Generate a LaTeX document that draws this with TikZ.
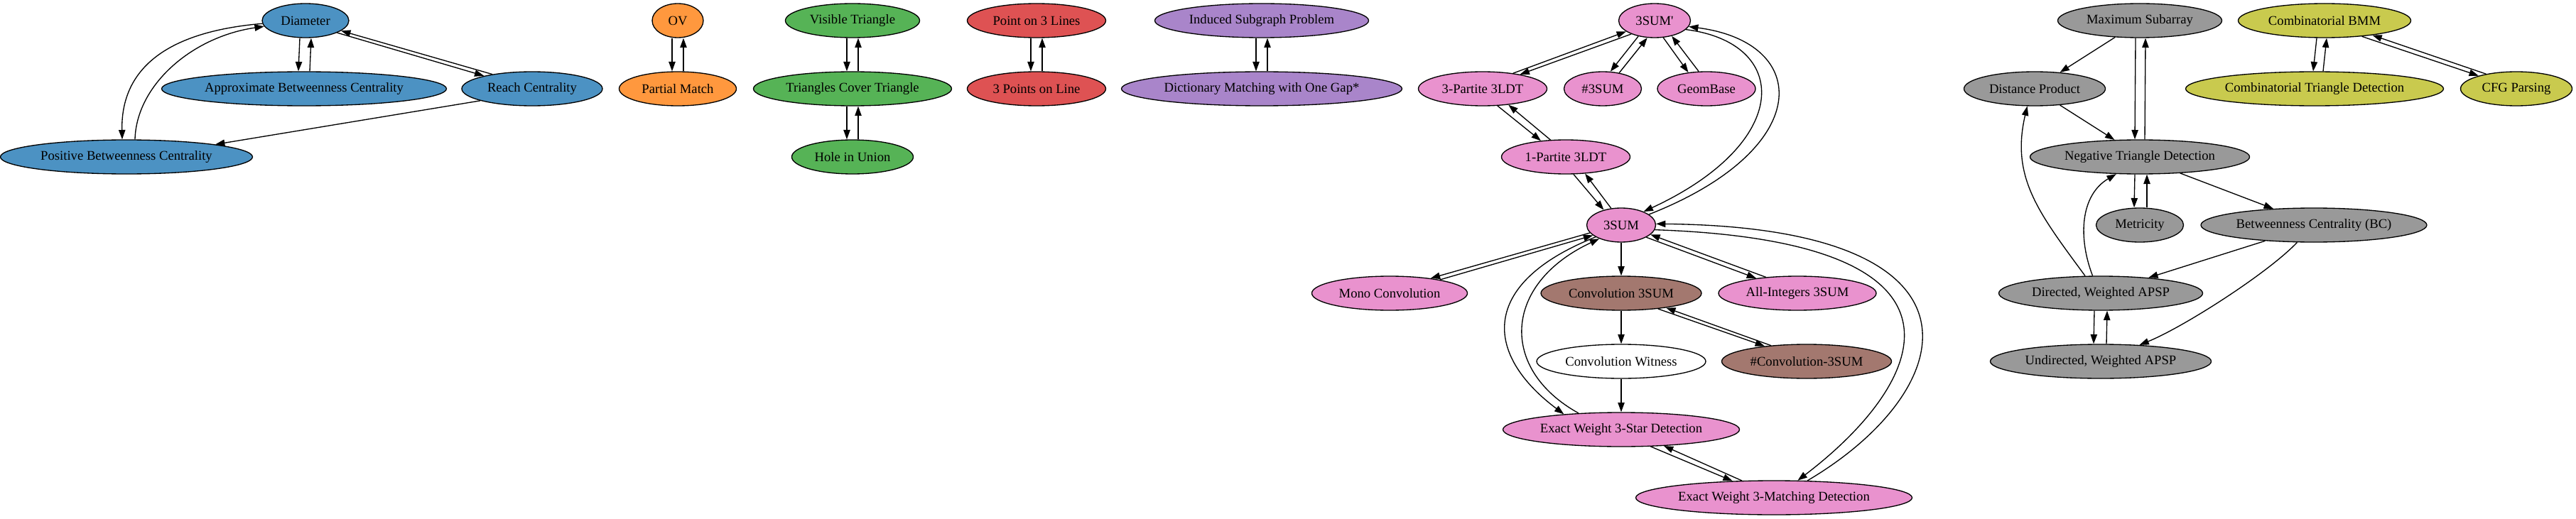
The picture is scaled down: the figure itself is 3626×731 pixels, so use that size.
\documentclass[tikz,border=0pt]{standalone}
\usepackage{fontspec}
\setmainfont{Liberation Serif}
\usepackage{xcolor}
\usetikzlibrary{shapes.geometric,arrows.meta}

\definecolor{cBlue}{RGB}{76,146,195}
\definecolor{cOrange}{RGB}{255,152,62}
\definecolor{cGreen}{RGB}{86,179,86}
\definecolor{cRed}{RGB}{222,82,83}
\definecolor{cPurple}{RGB}{169,133,202}
\definecolor{cBrown}{RGB}{163,120,111}
\definecolor{cPink}{RGB}{233,146,206}
\definecolor{cGray}{RGB}{153,153,153}
\definecolor{cOlive}{RGB}{201,202,78}

\tikzset{
  prob/.style={ellipse, draw=black, line width=1pt, minimum height=36pt, inner sep=0pt, font=\fontsize{14}{16}\selectfont},
  link/.style={line width=1pt, -{Triangle[length=10pt,width=7pt]}},
}

\begin{document}
\begin{tikzpicture}[x=0.75pt,y=0.75pt,yscale=-1,xscale=1]
\useasboundingbox (0,0) rectangle (3626,731);

%Ellipses: centrality group
\node[prob, fill=cBlue, minimum width=91.5pt] (diam) at (430,29) {Diameter};
\node[prob, fill=cBlue, minimum width=300.75pt] (abc) at (428,125) {Approximate Betweenness Centrality};
\node[prob, fill=cBlue, minimum width=148.5pt] (reach) at (749,125) {Reach Centrality};
\node[prob, fill=cBlue, minimum width=266.25pt] (pbc) at (178,221) {Positive Betweenness Centrality};
%Ellipses: OV group
\node[prob, fill=cOrange, minimum width=54pt] (ov) at (954,29) {OV};
\node[prob, fill=cOrange, minimum width=123.75pt] (pm) at (954,125) {Partial Match};
%Ellipses: triangle group
\node[prob, fill=cGreen, minimum width=141.75pt] (vt) at (1200,29) {Visible Triangle};
\node[prob, fill=cGreen, minimum width=209.25pt] (tct) at (1200,125) {Triangles Cover Triangle};
\node[prob, fill=cGreen, minimum width=128.25pt] (hiu) at (1200,221) {Hole in Union};
%Ellipses: lines group
\node[prob, fill=cRed, minimum width=146.25pt] (ponl) at (1459,29) {Point on 3 Lines};
\node[prob, fill=cRed, minimum width=146.25pt] (tpol) at (1459,125) {3 Points on Line};
%Ellipses: subgraph group
\node[prob, fill=cPurple, minimum width=225.75pt] (isp) at (1776,29) {Induced Subgraph Problem};
\node[prob, fill=cPurple, minimum width=296.25pt] (dmg) at (1776,125) {Dictionary Matching with One Gap*};
%Ellipses: 3SUM group
\node[prob, fill=cPink, minimum width=75.75pt] (sumq) at (2329,29) {3SUM\textquotesingle};
\node[prob, fill=cPink, minimum width=135.75pt] (tp) at (2087,125) {3-Partite 3LDT};
\node[prob, fill=cPink, minimum width=81.75pt] (nsum) at (2256,125) {\#3SUM};
\node[prob, fill=cPink, minimum width=103.5pt] (geom) at (2402,125) {GeomBase};
\node[prob, fill=cPink, minimum width=135.75pt] (op) at (2204,221) {1-Partite 3LDT};
\node[prob, fill=cPink, minimum width=72.75pt] (sum) at (2282,317) {3SUM};
\node[prob, fill=cPink, minimum width=164.25pt] (mono) at (1956,413) {Mono Convolution};
\node[prob, fill=cBrown, minimum width=169.5pt] (conv) at (2282,413) {Convolution 3SUM};
\node[prob, fill=cPink, minimum width=166.5pt] (allint) at (2530,413) {All-Integers 3SUM};
\node[prob, fill=white, minimum width=178.5pt] (wit) at (2282,509) {Convolution Witness};
\node[prob, fill=cBrown, minimum width=179.25pt] (nconv) at (2543,509) {\#Convolution-3SUM};
\node[prob, fill=cPink, minimum width=249.75pt] (star) at (2282,605) {Exact Weight 3-Star Detection};
\node[prob, fill=cPink, minimum width=291.75pt] (match) at (2497,701) {Exact Weight 3-Matching Detection};
%Ellipses: APSP group
\node[prob, fill=cGray, minimum width=173.25pt] (maxs) at (3012,29) {Maximum Subarray};
\node[prob, fill=cGray, minimum width=149.25pt] (dprod) at (2864,125) {Distance Product};
\node[prob, fill=cGray, minimum width=231.75pt] (ntd) at (3012,221) {Negative Triangle Detection};
\node[prob, fill=cGray, minimum width=92.25pt] (metr) at (3012,317) {Metricity};
\node[prob, fill=cGray, minimum width=238.5pt] (bc) at (3257,317) {Betweenness Centrality (BC)};
\node[prob, fill=cGray, minimum width=215.25pt] (dir) at (2957,413) {Directed, Weighted APSP};
\node[prob, fill=cGray, minimum width=233.25pt] (undir) at (2957,509) {Undirected, Weighted APSP};
%Ellipses: BMM group
\node[prob, fill=cOlive, minimum width=182.25pt] (bmm) at (3272,29) {Combinatorial BMM};
\node[prob, fill=cOlive, minimum width=272.25pt] (ctd) at (3258,125) {Combinatorial Triangle Detection};
\node[prob, fill=cOlive, minimum width=117.75pt] (cfg) at (3542,125) {CFG Parsing};

%Straight Lines
\draw[link] ([xshift=-6pt]diam.south) -- ([xshift=-6pt]abc.north);
\draw[link] ([xshift=6pt]abc.north) -- ([xshift=6pt]diam.south);
\draw[link] (diam.339) -- (reach.165);
\draw[link] (reach.160) -- (diam.344);
\draw[link] (reach.193) -- (pbc.8);
%Curve Lines
\draw[link] (diam.184) .. controls (230,45) and (170,100) .. ([xshift=-4.5pt]pbc.north);
\draw[link] ([xshift=9pt]pbc.north) .. controls (192,120) and (270,52) .. (diam.188);

%Straight Lines
\draw[link] ([xshift=-6pt]ov.south) -- ([xshift=-6pt]pm.north);
\draw[link] ([xshift=6pt]pm.north) -- ([xshift=6pt]ov.south);
\draw[link] ([xshift=-6pt]vt.south) -- ([xshift=-6pt]tct.north);
\draw[link] ([xshift=6pt]tct.north) -- ([xshift=6pt]vt.south);
\draw[link] ([xshift=-6pt]tct.south) -- ([xshift=-6pt]hiu.north);
\draw[link] ([xshift=6pt]hiu.north) -- ([xshift=6pt]tct.south);
\draw[link] ([xshift=-6pt]ponl.south) -- ([xshift=-6pt]tpol.north);
\draw[link] ([xshift=6pt]tpol.north) -- ([xshift=6pt]ponl.south);
\draw[link] ([xshift=-6pt]isp.south) -- ([xshift=-6pt]dmg.north);
\draw[link] ([xshift=6pt]dmg.north) -- ([xshift=6pt]isp.south);

%Straight Lines
\draw[link] (sumq.210) -- (tp.21);
\draw[link] (tp.27) -- (sumq.201);
\draw[link] (sumq.224) -- (nsum.66);
\draw[link] (nsum.44) -- (sumq.247);
\draw[link] (sumq.297) -- (geom.138);
\draw[link] (geom.114) -- (sumq.318);
\draw[link] (tp.311) -- (op.147);
\draw[link] (op.132) -- (tp.328);
\draw[link] (op.294) -- (sum.139);
\draw[link] (sum.121) -- (op.319);
\draw[link] (sum.194) -- (mono.20);
\draw[link] (mono.15) -- (sum.200);
\draw[link] (sum.south) -- (conv.north);
\draw[link] (sum.334) -- (allint.160);
\draw[link] (allint.153) -- (sum.342);
\draw[link] (conv.south) -- (wit.north);
\draw[link] (conv.337) -- (nconv.160);
\draw[link] (nconv.156) -- (conv.342);
\draw[link] (wit.south) -- (star.north);
\draw[link] (star.330) -- (match.158);
\draw[link] (match.152) -- (star.339);
%Curve Lines
\draw[link] (sumq.344) .. controls (2520,60) and (2525,200) .. (sum.31);
\draw[link] (sum.21) .. controls (2555,210) and (2550,60) .. (sumq.350);
\draw[link] (sum.205) .. controls (2080,400) and (2090,500) .. (star.165);
\draw[link] (star.159) .. controls (2110,520) and (2115,400) .. (sum.212);
\draw[link] (sum.352) .. controls (2810,340) and (2710,540) .. (match.36);
\draw[link] (match.27) .. controls (2760,550) and (2820,320) .. (sum.2);

%Straight Lines
\draw[link] (maxs.214) -- (dprod.33);
\draw[link] ([xshift=-4.5pt]maxs.south) -- ([xshift=-5.25pt]ntd.north);
\draw[link] ([xshift=5.25pt]ntd.north) -- ([xshift=6pt]maxs.south);
\draw[link] (dprod.327) -- (ntd.146);
\draw[link] ([xshift=-5.25pt]ntd.south) -- ([xshift=-6pt]metr.north);
\draw[link] ([xshift=7.5pt]metr.north) -- ([xshift=7.5pt]ntd.south);
\draw[link] (ntd.338) -- (bc.158);
\draw[link] (bc.198) -- (dir.18);
\draw[link] ([xshift=-6.75pt]dir.south) -- ([xshift=-7.5pt]undir.north);
\draw[link] ([xshift=6pt]undir.north) -- ([xshift=6.75pt]dir.south);
%Curve Lines
\draw[link] (dir.132) .. controls (2870,300) and (2830,250) .. (dprod.247);
\draw[link] (dir.115) .. controls (2925,335) and (2928,275) .. (ntd.216);
\draw[link] (bc.226) .. controls (3192,385) and (3073,461) .. (undir.23);

%Straight Lines
\draw[link] ([xshift=-8.25pt]bmm.south) -- ([xshift=-1.5pt]ctd.north);
\draw[link] ([xshift=9pt]ctd.north) -- ([xshift=2.25pt]bmm.south);
\draw[link] (bmm.337) -- (cfg.161);
\draw[link] (cfg.154) -- (bmm.343);

\end{tikzpicture}
\end{document}
